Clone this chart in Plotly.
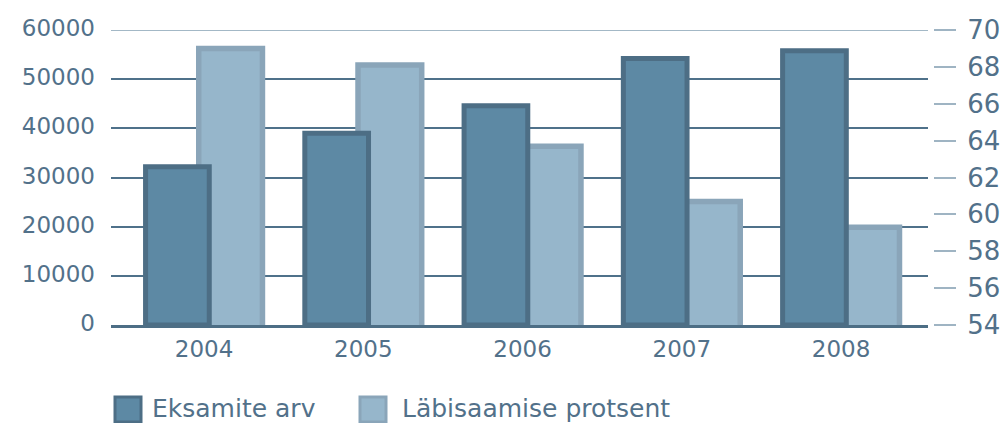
import plotly.graph_objects as go

# ---- data ----
years = ["2004", "2005", "2006", "2007", "2008"]
eksamite_arv = [32200, 39000, 44600, 54200, 55800]
labisaamise_protsent = [69.0, 68.1, 63.7, 60.7, 59.3]
left_ticks = [0, 10000, 20000, 30000, 40000, 50000, 60000]
right_ticks = [54, 56, 58, 60, 62, 64, 66, 68, 70]
series_names = ["Eksamite arv", "Läbisaamise protsent"]

# ---- style ----
W, H = 1003, 423
ML, MR, MT, MB = 111, 75, 30, 98
TXT = "#52718a"
DARK_FILL, DARK_LINE = "#5d89a4", "#4d6e85"
LIGHT_FILL, LIGHT_LINE = "#96b6cb", "#8aa5b9"
GRID = "#4f718a"
FONT = "DejaVu Sans"

pw, ph = W - ML - MR, H - MT - MB
def px_x(x):
    return (x - ML) / pw
def px_y(y):
    return (H - MB - y) / ph

fig = go.Figure()

# light bars on right axis (y), drawn first (behind)
fig.add_trace(go.Bar(
    x=years, y=labisaamise_protsent, name=series_names[1],
    yaxis="y", offset=-0.033, width=0.40,
    marker=dict(color=LIGHT_FILL, line=dict(color=LIGHT_LINE, width=5.5)),
    showlegend=False,
))
# dark bars on left axis (y2 overlaying), drawn on top
fig.add_trace(go.Bar(
    x=years, y=eksamite_arv, name=series_names[0],
    yaxis="y2", offset=-0.367, width=0.40,
    marker=dict(color=DARK_FILL, line=dict(color=DARK_LINE, width=5)),
    showlegend=False,
))

shapes = [
    # lighter top gridline
    dict(type="line", xref="paper", x0=0, x1=1, yref="y2", y0=left_ticks[-1], y1=left_ticks[-1],
         line=dict(color="#a3b8c6", width=2), layer="between"),
    # legend swatches
    dict(type="rect", xref="paper", yref="paper",
         x0=px_x(115), x1=px_x(141), y0=px_y(397), y1=px_y(422),
         fillcolor=DARK_FILL, line=dict(color=DARK_LINE, width=3)),
    dict(type="rect", xref="paper", yref="paper",
         x0=px_x(360), x1=px_x(386), y0=px_y(397), y1=px_y(422),
         fillcolor=LIGHT_FILL, line=dict(color=LIGHT_LINE, width=3)),
]
annotations = [
    dict(text=series_names[0], xref="paper", yref="paper", x=px_x(150), y=px_y(408),
         xanchor="left", yanchor="middle", showarrow=False,
         font=dict(family=FONT, size=25, color=TXT)),
    dict(text=series_names[1], xref="paper", yref="paper", x=px_x(400), y=px_y(408),
         xanchor="left", yanchor="middle", showarrow=False,
         font=dict(family=FONT, size=25, color=TXT)),
]

fig.update_layout(
    width=W, height=H,
    margin=dict(l=ML, r=MR, t=MT, b=MB, pad=0, autoexpand=False),
    paper_bgcolor="white", plot_bgcolor="white",
    barmode="overlay",
    showlegend=False,
    hovermode=False,
    shapes=shapes,
    annotations=annotations,
    xaxis=dict(
        type="category", range=[-0.584, 4.546], automargin=False,
        showgrid=False, zeroline=False,
        showline=True, linecolor=DARK_LINE, linewidth=3, layer="above traces",
        ticks="", ticklabelstandoff=1,
        tickfont=dict(family=FONT, size=23, color=TXT),
    ),
    yaxis=dict(
        side="right", anchor="free", position=1, shift=5, automargin=False,
        range=[right_ticks[0], right_ticks[-1]], tickvals=right_ticks,
        showgrid=False, zeroline=False, showline=False,
        ticks="outside", ticklen=22, tickwidth=2, tickcolor="#9fb4c3",
        ticklabelstandoff=6,
        tickfont=dict(family=FONT, size=26, color=TXT),
    ),
    yaxis2=dict(
        overlaying="y", side="left", automargin=False,
        range=[left_ticks[0], left_ticks[-1]], tickvals=left_ticks, tickformat="d",
        showgrid=True, gridcolor=GRID, gridwidth=2,
        zeroline=False, showline=False, ticks="",
        ticklabelstandoff=15, ticklabelshift=-2,
        tickfont=dict(family=FONT, size=23, color=TXT),
    ),
)

fig.write_html(
    "out.html",
    config={"displayModeBar": False},
    post_script="document.body.style.margin='0';document.body.style.padding='0';",
)
